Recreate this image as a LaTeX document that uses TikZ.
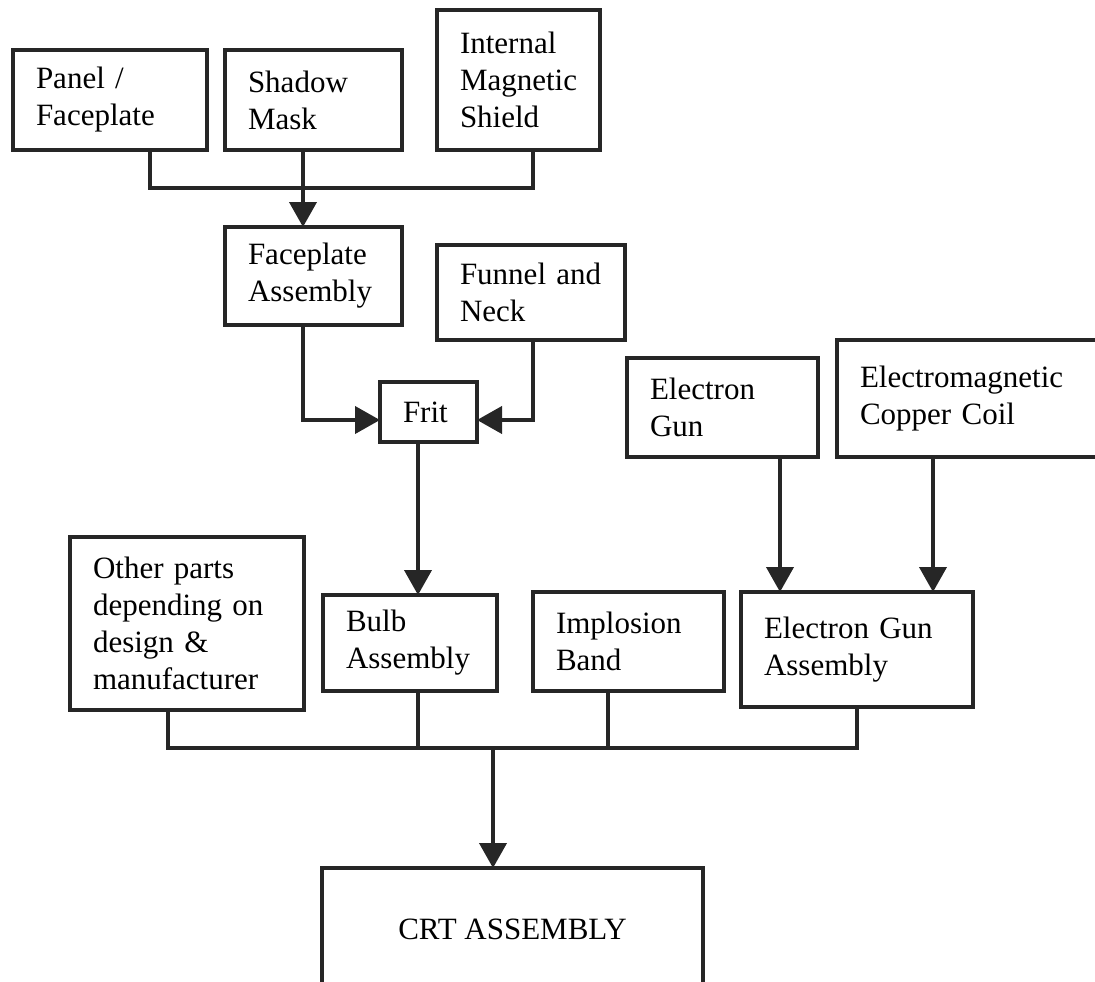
\documentclass[tikz,border=0pt]{standalone}
\usepackage{fontspec}
\setmainfont{Liberation Serif}
\usetikzlibrary{arrows.meta}

\begin{document}
\begin{tikzpicture}[x=1pt,y=-1pt,
  part/.style={draw=black!85, line width=4pt, anchor=north west, outer sep=0pt,
    inner xsep=23pt, inner ysep=0pt, align=left, font=\fontsize{31}{37}\selectfont},
  wire/.style={black!85, line width=4pt},
  feed/.style={wire, -{Triangle[width=27pt,length=25pt]}}]
\useasboundingbox (0,0) rectangle (1095,982);
\clip (0,0) rectangle (1095,982);
\node[part, text width=148pt, minimum height=100pt] (panel) at (13,50) {Panel /\\Faceplate};
\node[part, text width=131pt, minimum height=100pt] (shadow) at (225,50) {Shadow\\Mask};
\node[part, text width=117pt, minimum height=140pt] (shield) at (437,10) {Internal\\Magnetic\\Shield};
\node[part, text width=131pt, minimum height=98pt] (faceasm) at (225,227) {Faceplate\\Assembly};
\node[part, text width=142pt, minimum height=95pt] (funnel) at (437,245) {Funnel and\\Neck};
\node[part, text width=51pt, minimum height=60pt] (frit) at (380,382) {Frit};
\node[part, text width=145pt, minimum height=99pt] (gun) at (627,358) {Electron\\Gun};
\node[part, text width=232pt, minimum height=117pt] (coil) at (837,340) {Electromagnetic\\Copper Coil};
\node[part, text width=188pt, minimum height=173pt] (other) at (70,537) {Other parts\\depending on\\design \&\\manufacturer};
\node[part, text width=128pt, minimum height=96pt] (bulb) at (323,595) {Bulb\\Assembly};
\node[part, text width=145pt, minimum height=99pt] (band) at (533,592) {Implosion\\Band};
\node[part, text width=186pt, minimum height=115pt] (gunasm) at (741,592) {Electron Gun\\Assembly};
\node[part, align=center, inner xsep=0pt, minimum width=381pt, minimum height=122pt] (crt) at (322,868) {CRT ASSEMBLY};
\coordinate (topL) at (150,188);
\coordinate (topM) at (303,188);
\coordinate (topR) at (533,188);
\coordinate (fritL) at (303,420);
\coordinate (fritR) at (533,420);
\coordinate (gunin) at (780,520);
\coordinate (coilin) at (933,520);
\coordinate (botL) at (168,748);
\coordinate (botB) at (418,748);
\coordinate (botI) at (608,748);
\coordinate (botM) at (493,748);
\coordinate (botR) at (857,748);
\draw[wire] (panel.south -| topL) -- (topL) -- (topR) -- (shield.south -| topR);
\draw[wire] (shadow.south -| topM) -- (topM);
\draw[feed] (topM) -- (faceasm.north -| topM);
\draw[feed] (faceasm.south -| fritL) -- (fritL) -- (frit.west |- fritL);
\draw[feed] (funnel.south -| fritR) -- (fritR) -- (frit.east |- fritR);
\draw[feed] (frit.south -| botB) -- (bulb.north -| botB);
\draw[feed] (gun.south -| gunin) -- (gunasm.north -| gunin);
\draw[feed] (coil.south -| coilin) -- (gunasm.north -| coilin);
\draw[wire] (other.south -| botL) -- (botL) -- (botR) -- (gunasm.south -| botR);
\draw[wire] (bulb.south -| botB) -- (botB);
\draw[wire] (band.south -| botI) -- (botI);
\draw[feed] (botM) -- (crt.north -| botM);
\end{tikzpicture}
\end{document}
